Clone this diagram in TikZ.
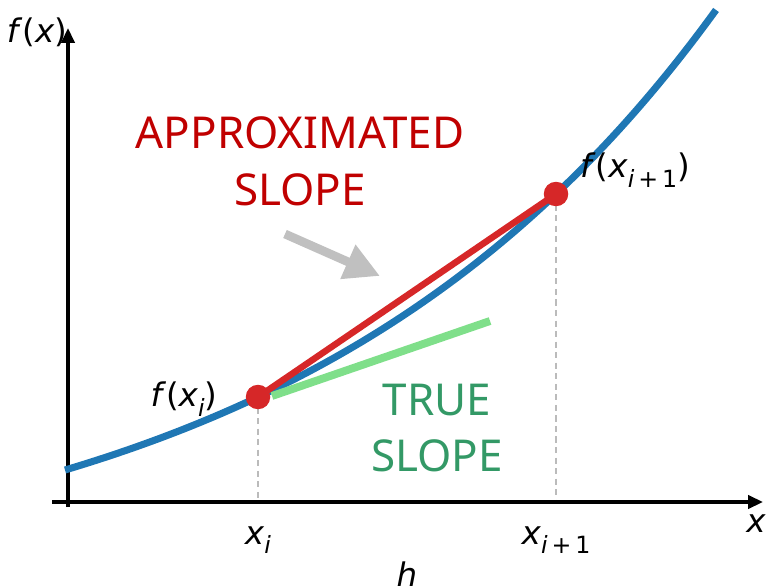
\documentclass[tikz,border=0pt]{standalone}
\usepackage{fontspec}
\setmainfont{DejaVu Sans}
\newfontfamily\slopefont{Noto Sans}
\usetikzlibrary{arrows.meta}

\definecolor{curveblue}{HTML}{1F77B4}
\definecolor{secantred}{HTML}{D62728}
\definecolor{tangentgreen}{HTML}{7FDF8A}
\definecolor{aprxred}{HTML}{C00000}
\definecolor{truegreen}{HTML}{339966}
\definecolor{guidegray}{HTML}{BBBBBB}
\definecolor{pointergray}{HTML}{C0C0C0}

% subscript in the labels
\newcommand{\sbx}[1]{\raisebox{-0.3em}{\fontsize{13.5}{13.5}\selectfont #1}}

\begin{document}
\begin{tikzpicture}[x=0.02cm, y=-0.02cm,
	lbl/.style={font=\fontsize{18.5}{20}\selectfont, inner sep=0pt},
	big/.style={font=\slopefont\fontsize{25}{32.3}\selectfont, align=center, inner sep=0pt},
	guide/.style={dashed, dash pattern=on 3.5pt off 2.5pt, color=guidegray, line width=0.8pt},
	axis/.style={line width=1.9pt, -{Triangle[length=8.5pt, width=7.5pt]}},
	dot/.style={fill=secantred, draw=none}]
	\useasboundingbox (0,0) rectangle (766,587);

	\coordinate (ybot) at (68,507);
	\coordinate (ytop) at (68,28);
	\coordinate (xleft) at (52,502);
	\coordinate (xright) at (763,502);
	\coordinate (pi) at (258,397);
	\coordinate (pj) at (556,194);
	\coordinate (pib) at (258,502);
	\coordinate (pjb) at (556,502);
	\coordinate (ts) at (272,396);
	\coordinate (te) at (490,321);
	\coordinate (ars) at (285,234);
	\coordinate (are) at (380,276);

	\draw[guide] (pi) -- (pib);
	\draw[guide] (pj) -- (pjb);
	\draw[axis] (ybot) -- (ytop);
	\draw[axis] (xleft) -- (xright);

	\draw[line width=4pt, color=curveblue] plot[domain=65:716, samples=120, smooth] (\x, {597.2 - 127.2*exp(0.00235*(\x-65))});
	\draw[line width=3.7pt, color=secantred] (pi) -- (pj);
	\draw[line width=4.5pt, color=tangentgreen] (ts) -- (te);
	\filldraw[dot] (pi) circle[radius=0.245cm];
	\filldraw[dot] (pj) circle[radius=0.245cm];

	\draw[line width=5pt, color=pointergray, -{Triangle[length=20pt, width=20pt]}] (ars) -- (are);

	\node[big, text=aprxred] (aprx) at (300,161) {APPROXIMATED\\SLOPE};
	\node[big, text=truegreen] (true) at (437,428) {TRUE\\SLOPE};

	\node[lbl] (fx) at (37,32) {\textit{f}(\textit{x})};
	\node[lbl] (fxi) at (184,399) {\textit{f}(\textit{x}\sbx{\textit{i}})};
	\node[lbl] (fxj) at (635,170) {\textit{f}(\textit{x}\sbx{\textit{i}\,+\,1})};
	\node[lbl] (xi) at (258,540) {\textit{x}\sbx{\textit{i}}};
	\node[lbl] (xj) at (556,540) {\textit{x}\sbx{\textit{i}\,+\,1}};
	\node[lbl] (xax) at (756,524) {\textit{x}};
	\node[lbl] (h) at (407,574) {\textit{h}};
\end{tikzpicture}
\end{document}
